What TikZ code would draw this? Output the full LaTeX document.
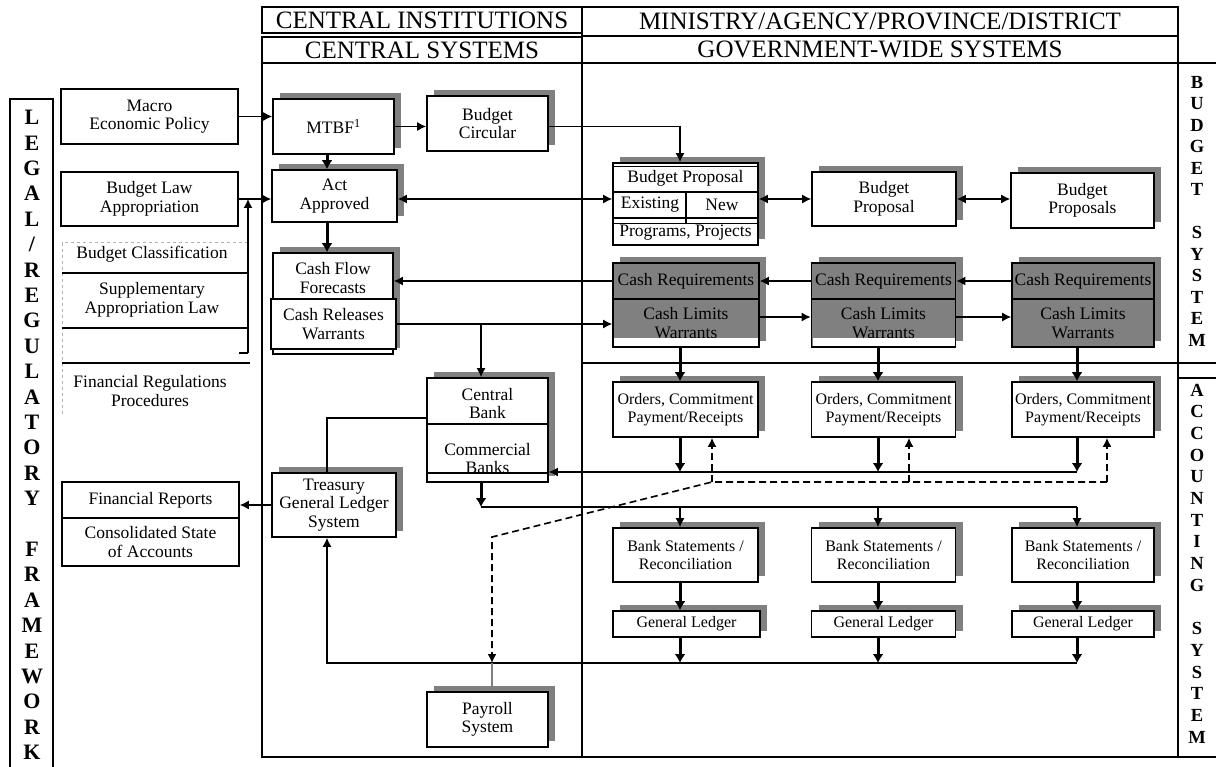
\documentclass[tikz,border=0pt]{standalone}
\usepackage{fontspec}
\setmainfont{Liberation Serif}
\usetikzlibrary{arrows.meta,shadows}

\tikzset{
  box/.style={draw, line width=1.6pt, fill=white, align=center, inner sep=1pt,
    font=\fontsize{17.5}{18.5}\selectfont},
  smallbox/.style={box, font=\fontsize{16}{17.5}\selectfont},
  shadowed/.style={drop shadow={shadow xshift=7pt, shadow yshift=6pt, fill=gray, opacity=1}},
  cashbox/.style={box, fill=gray, shadowed},
  hdr/.style={draw, line width=1.5pt, font=\fontsize{25}{26}\selectfont},
  lbl/.style={align=center, inner sep=0pt, font=\fontsize{17.5}{18.5}\selectfont},
  sidetxt/.style={align=center, inner sep=0pt},
  framerule/.style={line width=1.5pt},
  conn/.style={line width=1.4pt, -{Latex[length=9pt,width=9pt]}},
  thickconn/.style={line width=3pt, -{Latex[length=9pt,width=11pt]}},
  biconn/.style={line width=1.4pt, {Latex[length=9pt,width=9pt]}-{Latex[length=9pt,width=9pt]}},
  dconn/.style={line width=1.6pt, dash pattern=on 7pt off 4pt, -{Latex[length=9pt,width=9pt]}},
}

\begin{document}
\begin{tikzpicture}[x=1pt,y=-1pt]
\useasboundingbox (0,0) rectangle (1216,767);

% frame of the two systems
\draw[framerule] (262,63) -- (262,757) -- (1216,757);
\draw[framerule] (582,7) -- (582,757);
\draw[framerule] (1178,7) -- (1178,757);
\draw[framerule] (262,63) -- (1216,63);
\draw[framerule] (582,363) -- (1216,363);
\draw[framerule] (1178,378) -- (1216,378);

% headings
\node[hdr, minimum width=320, minimum height=26] (ci) at (422,20) {CENTRAL INSTITUTIONS};
\node[hdr, minimum width=320, minimum height=26] (cs) at (422,50) {CENTRAL SYSTEMS};
\node[hdr, minimum width=596, minimum height=29] (min) at (880,21.5) {MINISTRY/AGENCY/PROVINCE/DISTRICT};
\node[hdr, minimum width=596, minimum height=27] (gov) at (880,49.5) {GOVERNMENT-WIDE SYSTEMS};

% side titles
\draw[framerule] (10,767) -- (10,99) -- (53,99) -- (53,767);
\node[sidetxt, font=\fontsize{22}{25.4}\selectfont\bfseries] (legal) at (32,435)
  {L\\E\\G\\A\\L\\/\\R\\E\\G\\U\\L\\A\\T\\O\\R\\Y\\[25.4pt]F\\R\\A\\M\\E\\W\\O\\R\\K};
\node[sidetxt, font=\fontsize{18.5}{21.5}\selectfont\bfseries] (budsys) at (1197,211)
  {B\\U\\D\\G\\E\\T\\[21.5pt]S\\Y\\S\\T\\E\\M};
\node[sidetxt, font=\fontsize{18.5}{21.7}\selectfont\bfseries] (accsys) at (1197,563.5)
  {A\\C\\C\\O\\U\\N\\T\\I\\N\\G\\[21.7pt]S\\Y\\S\\T\\E\\M};

% legal column
\node[box, minimum width=177, minimum height=55] (macro) at (149.5,116.5) {Macro\\Economic Policy};
\node[box, minimum width=177, minimum height=54] (budgetlaw) at (149.5,199) {Budget Law\\Appropriation};
\draw[gray!60, dashed, line width=1pt] (248,243) -- (62,243) -- (62,415);
\draw[line width=1.3pt] (62,273) -- (248,273);
\draw[line width=1.3pt] (62,328) -- (248,328);
\draw[line width=1.3pt] (62,363) -- (250,363);
\node[lbl] (bclass) at (152,254) {Budget Classification};
\node[lbl] (suppl) at (152,300) {Supplementary\\Appropriation Law};
\node[lbl] (finreg) at (150,391) {Financial Regulations\\Procedures};
\coordinate (suppbot) at (248,353);
\node[box, minimum width=177, minimum height=36] (finrep) at (150.5,500) {Financial Reports};
\node[box, minimum width=177, minimum height=48] (consol) at (150.5,542) {Consolidated State\\of Accounts};

% central systems
\node[box, shadowed, minimum width=121, minimum height=55] (mtbf) at (333.5,126.5) {MTBF\textsuperscript{1}};
\node[box, shadowed, minimum width=121, minimum height=55] (circular) at (487.5,123.5) {Budget\\Circular};
\node[box, shadowed, minimum width=125, minimum height=52] (act) at (334.5,196) {Act\\Approved};
\node[box, shadowed, minimum width=120, minimum height=101] (cashflow) at (333,303.5) {};
\node[lbl] (cashflowtxt) at (333,278) {Cash Flow\\Forecasts};
\node[box, line width=2pt, minimum width=125, minimum height=50] (crel) at (333.5,324) {Cash Releases\\Warrants};
\node[box, shadowed, minimum width=121, minimum height=104] (cbank) at (487.5,430) {};
\draw[line width=1.3pt] (427,424) -- (548,424);
\draw[line width=1.3pt] (427,473) -- (548,473);
\node[lbl] (cbanktxt) at (487.5,403.5) {Central\\Bank};
\node[lbl] (combank) at (487.5,458.5) {Commercial\\Banks};
\node[box, shadowed, minimum width=124, minimum height=64] (treasury) at (334,505) {Treasury\\General Ledger\\System};
\node[box, shadowed, minimum width=121, minimum height=55] (payroll) at (487.5,719.5) {Payroll\\System};

% government-wide systems
\node[box, shadowed, minimum width=145, minimum height=82] (bprop) at (685.5,204) {};
\draw[line width=1pt] (613,167) -- (758,167);
\draw[line width=1.3pt] (613,192) -- (758,192);
\draw[line width=1.3pt] (613,218) -- (758,218);
\draw[line width=1pt] (613,224) -- (758,224);
\draw[line width=1.3pt] (686,192) -- (686,224);
\node[lbl] (bproptxt) at (685.5,178) {Budget Proposal};
\node[lbl] (exist) at (650,205) {Existing};
\node[lbl] (new) at (722,205) {New};
\node[lbl] (progs) at (685.5,233) {Programs, Projects};
\node[box, shadowed, minimum width=144, minimum height=54] (bprop2) at (884,199) {Budget\\Proposal};
\node[box, shadowed, minimum width=143, minimum height=55] (bprop3) at (1082.5,200.5) {Budget\\Proposals};

\node[cashbox, minimum width=146, minimum height=48] (climit1) at (686,323) {Cash Limits\\Warrants};
\node[cashbox, minimum width=144, minimum height=48] (climit2) at (883.5,323) {Cash Limits\\Warrants};
\node[cashbox, minimum width=142, minimum height=48] (climit3) at (1083,323) {Cash Limits\\Warrants};
\fill[white] (614,338.5) rectangle (758,346);
\fill[white] (813,338.5) rectangle (954.5,346);
\node[cashbox, minimum width=146, minimum height=36] (creq1) at (686,281) {Cash Requirements};
\node[cashbox, minimum width=144, minimum height=36] (creq2) at (883.5,281) {Cash Requirements};
\node[cashbox, minimum width=142, minimum height=36] (creq3) at (1083,281) {Cash Requirements};

\node[smallbox, shadowed, minimum width=145, minimum height=55] (orders1) at (685.5,409.5) {Orders, Commitment\\Payment/Receipts};
\node[smallbox, shadowed, minimum width=144, minimum height=55] (orders2) at (883.5,409.5) {Orders, Commitment\\Payment/Receipts};
\node[smallbox, shadowed, minimum width=142, minimum height=55] (orders3) at (1083,409.5) {Orders, Commitment\\Payment/Receipts};
\node[smallbox, shadowed, minimum width=145, minimum height=54] (bank1) at (685.5,555) {Bank Statements /\\Reconciliation};
\node[smallbox, shadowed, minimum width=144, minimum height=54] (bank2) at (883.5,555) {Bank Statements /\\Reconciliation};
\node[smallbox, shadowed, minimum width=142, minimum height=54] (bank3) at (1083,555) {Bank Statements /\\Reconciliation};
\node[smallbox, shadowed, minimum width=147, minimum height=26] (gl1) at (686.5,624) {General Ledger};
\node[smallbox, shadowed, minimum width=144, minimum height=26] (gl2) at (883.5,624) {General Ledger};
\node[smallbox, shadowed, minimum width=142, minimum height=26] (gl3) at (1083,624) {General Ledger};

% lanes of the connectors
\coordinate (cc) at (327,0);
\coordinate (cb) at (481,0);
\coordinate (pr) at (492,0);
\coordinate (c1) at (680,0);
\coordinate (c2) at (878,0);
\coordinate (c3) at (1077,0);
\coordinate (d1) at (712,0);
\coordinate (d2) at (909,0);
\coordinate (d3) at (1107,0);
\coordinate (ordline) at (0,472);
\coordinate (dashline) at (0,482);
\coordinate (bankline) at (0,507);
\coordinate (glline) at (0,663);
\coordinate (bend) at (492,537);

% budget flows
\draw[conn] (macro.east) -- (macro.east -| mtbf.west);
\draw[conn] (budgetlaw.east) -- (budgetlaw.east -| act.west);
\draw[line width=1.3pt] (suppbot -| budgetlaw.east) -- (suppbot);
\draw[conn] (suppbot) -- (suppbot |- budgetlaw.east);
\draw[conn] (mtbf.east) -- (mtbf.east -| circular.west);
\draw[conn] (circular.east |- mtbf.east) -| (c1 |- bprop.north);
\draw[thickconn] (mtbf.south -| cc) -- (act.north -| cc);
\draw[thickconn] (act.south -| cc) -- (cashflow.north -| cc);
\draw[biconn] (act.east |- bprop2.west) -- (bprop.west |- bprop2.west);
\draw[biconn] (bprop.east |- bprop2.west) -- (bprop2.west);
\draw[biconn] (bprop2.east) -- (bprop2.east -| bprop3.west);

% cash flows
\draw[conn] (creq3.west) -- (creq2.east);
\draw[conn] (creq2.west) -- (creq1.east);
\draw[conn] (creq1.west) -- (creq1.west -| cashflow.east);
\draw[conn] (crel.east) -- (crel.east -| climit1.west);
\draw[conn] ([yshift=6pt]climit1.east) -- ([yshift=6pt]climit2.west);
\draw[conn] ([yshift=6pt]climit2.east) -- ([yshift=6pt]climit3.west);
\draw[conn] (crel.east -| cb) -- (cbank.north -| cb);
\draw[thickconn] (climit1.south -| c1) -- (orders1.north -| c1);
\draw[thickconn] (climit2.south -| c2) -- (orders2.north -| c2);
\draw[thickconn] (climit3.south -| c3) -- (orders3.north -| c3);

% accounting flows
\draw[thickconn] (orders1.south -| c1) -- (c1 |- ordline);
\draw[thickconn] (orders2.south -| c2) -- (c2 |- ordline);
\draw[thickconn] (orders3.south -| c3) -- (c3 |- ordline);
\draw[conn] (c3 |- ordline) -- (ordline -| cbank.east);
\draw[thickconn] (cbank.south -| cb) -- (cb |- bankline);
\draw[line width=1.4pt] (cb |- bankline) -- (c3 |- bankline);
\draw[conn] (c1 |- bankline) -- (bank1.north -| c1);
\draw[conn] (c2 |- bankline) -- (bank2.north -| c2);
\draw[conn] (c3 |- bankline) -- (bank3.north -| c3);
\draw[thickconn] (bank1.south -| c1) -- (gl1.north -| c1);
\draw[thickconn] (bank2.south -| c2) -- (gl2.north -| c2);
\draw[thickconn] (bank3.south -| c3) -- (gl3.north -| c3);
\draw[thickconn] (gl1.south -| c1) -- (c1 |- glline);
\draw[thickconn] (gl2.south -| c2) -- (c2 |- glline);
\draw[thickconn] (gl3.south -| c3) -- (c3 |- glline);
\draw[conn] (c3 |- glline) -| (treasury.south -| cc);
\draw[line width=1.4pt] ([yshift=12pt]cbank.west) -| (treasury.north -| cc);
\draw[conn] (treasury.west) -- (treasury.west -| finrep.east);

% payroll
\draw[dconn] (d1 |- dashline) -- (orders1.south -| d1);
\draw[dconn] (d2 |- dashline) -- (orders2.south -| d2);
\draw[dconn] (d3 |- dashline) -- (orders3.south -| d3);
\draw[dconn] (d3 |- dashline) -- (d1 |- dashline) -- (bend) -- (pr |- glline);
\draw[gray, line width=1.4pt] (pr |- glline) -- (payroll.north -| pr);

\end{tikzpicture}
\end{document}
